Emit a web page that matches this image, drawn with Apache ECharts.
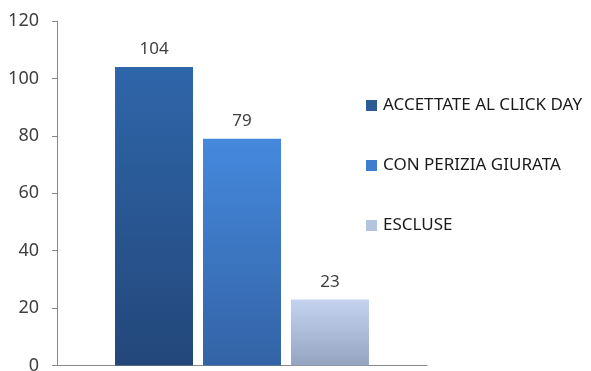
<!DOCTYPE html>
<html>
<head>
<meta charset="utf-8">
<script src="https://cdn.jsdelivr.net/npm/echarts@6/dist/echarts.min.js"></script>
<style>
  html, body { margin: 0; padding: 0; background: #fff; }
  #chart { width: 591px; height: 371px; }
</style>
</head>
<body>
<div id="chart"></div>
<script>
// Chart data
const categories = [''];
const seriesNames = ['ACCETTATE AL CLICK DAY', 'CON PERIZIA GIURATA', 'ESCLUSE'];
const accettate = [104];
const perizia = [79];
const escluse = [23];
const yTicks = [0, 20, 40, 60, 80, 100, 120];

// Top / bottom gradient colours for each bar, and flat legend swatch colours
const gradients = [
  ['#2f66aa', '#23477a'],
  ['#4589dd', '#3363a6'],
  ['#c4d3ef', '#95a4c0']
];
const swatches = ['#2c5a94', '#3f7dcf', '#b4c4de'];

const chart = echarts.init(document.getElementById('chart'), null, { renderer: 'canvas' });

const valuesList = [accettate, perizia, escluse];
const series = seriesNames.map((name, i) => ({
  name: name,
  type: 'bar',
  data: valuesList[i],
  barWidth: 78,
  barGap: '12.8%',
  itemStyle: {
    color: new echarts.graphic.LinearGradient(0, 0, 0, 1, [
      { offset: 0, color: gradients[i][0] },
      { offset: 1, color: gradients[i][1] }
    ])
  },
  label: {
    show: true,
    position: 'top',
    distance: 9,
    color: '#404040',
    fontFamily: 'Noto Sans',
    fontSize: 17
  }
}));

chart.setOption({
  animation: false,
  backgroundColor: '#ffffff',
  grid: {
    left: 57, right: 164, top: 21, bottom: 5.5,
    containLabel: false,
    outerBoundsMode: 'none'
  },
  legend: {
    orient: 'vertical',
    left: 366,
    top: 95,
    padding: 0,
    itemWidth: 11,
    itemHeight: 11,
    itemGap: 39,
    icon: 'rect',
    data: seriesNames.map((n, i) => ({ name: n, itemStyle: { color: swatches[i] } })),
    textStyle: {
      color: '#1a1a1a',
      fontFamily: 'Noto Sans',
      fontSize: 17,
      lineHeight: 21,
      padding: [0, 0, 0, 1]
    }
  },
  xAxis: {
    type: 'category',
    data: categories,
    axisLine: { show: true, lineStyle: { color: '#888888', width: 1 } },
    axisTick: { show: false },
    axisLabel: { show: false },
    splitLine: { show: false }
  },
  yAxis: {
    type: 'value',
    min: yTicks[0],
    max: yTicks[yTicks.length - 1],
    interval: 20,
    axisLine: { show: true, lineStyle: { color: '#888888', width: 1 } },
    axisTick: { show: true, length: 5, lineStyle: { color: '#888888' } },
    axisLabel: {
      color: '#404040',
      fontFamily: 'Noto Sans',
      fontSize: 18,
      margin: 18
    },
    splitLine: { show: false }
  },
  series: series
});
</script>
</body>
</html>
